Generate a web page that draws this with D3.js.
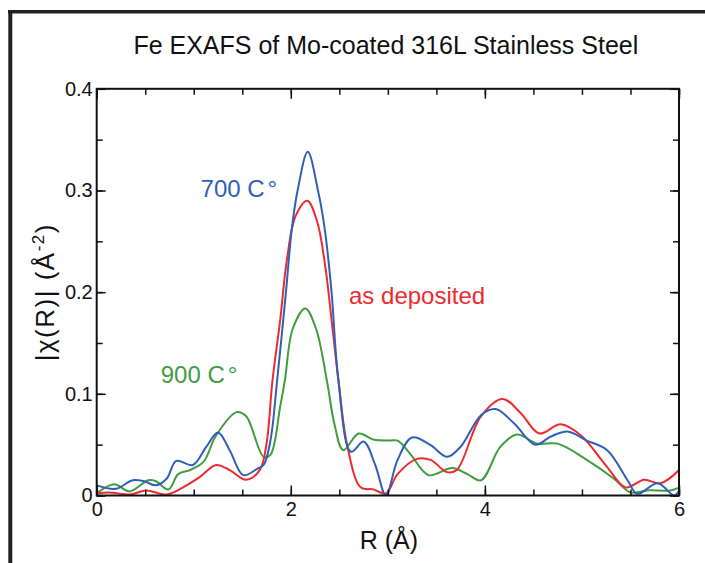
<!DOCTYPE html>
<html>
<head>
<meta charset="utf-8">
<script src="https://cdn.jsdelivr.net/npm/d3@7"></script>
<style>
  html, body { margin: 0; padding: 0; background: #fff; }
  svg { display: block; font-family: "Liberation Sans", Arial, Helvetica, sans-serif; }
</style>
</head>
<body>
<svg id="chart" width="705" height="563"></svg>
<script>
// ---- Data ----
const title = "Fe EXAFS of Mo-coated 316L Stainless Steel";
const xTickLabels = [0, 2, 4, 6];
const yTickLabels = [0, 0.1, 0.2, 0.3, 0.4];

// 700 C (blue)
const r700 = [0, 0.2, 0.37, 0.49, 0.61, 0.72, 0.82, 0.99, 1.13, 1.25, 1.37, 1.51, 1.65, 1.72, 1.79, 1.86, 1.95, 2.01, 2.07, 2.175, 2.28, 2.35, 2.42, 2.49, 2.62, 2.75, 2.87, 2.98, 3.1, 3.25, 3.44, 3.61, 3.75, 3.96, 4.11, 4.30, 4.52, 4.68, 4.85, 5.05, 5.26, 5.47, 5.57, 5.78, 5.95, 6.0];
const v700 = [0.010, 0.0066, 0.015, 0.014, 0.010, 0.0165, 0.034, 0.030, 0.048, 0.062, 0.0446, 0.020, 0.026, 0.030, 0.054, 0.114, 0.20, 0.262, 0.30, 0.338, 0.30, 0.262, 0.20, 0.114, 0.043, 0.053, 0.030, 0.0, 0.035, 0.057, 0.0495, 0.038, 0.048, 0.079, 0.085, 0.071, 0.050, 0.058, 0.063, 0.054, 0.0446, 0.015, 0.0017, 0.012, 0.0, 0.005];

// as deposited (red)
const rDep = [0, 0.13, 0.34, 0.51, 0.72, 0.89, 1.06, 1.23, 1.37, 1.54, 1.68, 1.75, 1.81, 1.89, 1.96, 2.05, 2.17, 2.27, 2.35, 2.43, 2.49, 2.58, 2.72, 2.85, 2.98, 3.1, 3.30, 3.44, 3.61, 3.71, 3.96, 4.18, 4.37, 4.56, 4.78, 4.99, 5.26, 5.45, 5.64, 5.81, 6.0];
const vDep = [0.002, 0.003, 0.001, 0.005, 0.001, 0.008, 0.018, 0.030, 0.025, 0.0155, 0.025, 0.051, 0.112, 0.172, 0.232, 0.275, 0.290, 0.27, 0.229, 0.164, 0.114, 0.05, 0.008, 0.006, 0.002, 0.021, 0.036, 0.035, 0.023, 0.025, 0.078, 0.095, 0.081, 0.061, 0.070, 0.059, 0.028, 0.008, 0.0155, 0.012, 0.025];

// 900 C (green)
const r900 = [0, 0.18, 0.34, 0.53, 0.61, 0.74, 0.84, 0.96, 1.10, 1.23, 1.44, 1.54, 1.72, 1.79, 1.89, 1.94, 2.02, 2.15, 2.26, 2.37, 2.45, 2.54, 2.7, 2.85, 3.02, 3.1, 3.23, 3.42, 3.66, 3.82, 3.96, 4.16, 4.33, 4.54, 4.75, 5.05, 5.33, 5.50, 5.67, 5.91, 6.0];
const v900 = [0.002, 0.011, 0.004, 0.015, 0.014, 0.006, 0.021, 0.025, 0.033, 0.059, 0.082, 0.078, 0.038, 0.040, 0.087, 0.114, 0.164, 0.184, 0.164, 0.114, 0.07, 0.0446, 0.061, 0.055, 0.054, 0.054, 0.041, 0.020, 0.027, 0.021, 0.015, 0.048, 0.060, 0.051, 0.051, 0.035, 0.0165, 0.003, 0.005, 0.005, 0.0076];

const seriesNames = ["700 C", "as deposited", "900 C"];
const seriesColors = ["#2f5fb7", "#ee2a2e", "#3f9c3f"];

// ---- Layout ----
const svg = d3.select("#chart");
const pLeft = 96.7, pRight = 679, pTop = 88.8, pBottom = 495.5;

const x = d3.scaleLinear().domain([0, 6]).range([pLeft, pRight]);
const y = d3.scaleLinear().domain([0, 0.4]).range([pBottom, pTop]);

// outer frame (partial border of the original figure)
svg.append("line").attr("x1", 8).attr("x2", 705).attr("y1", 11.8).attr("y2", 11.8)
  .attr("stroke", "#222").attr("stroke-width", 3.6);
svg.append("line").attr("x1", 10.3).attr("x2", 10.3).attr("y1", 10).attr("y2", 563)
  .attr("stroke", "#222").attr("stroke-width", 4);

// title
svg.append("text").attr("x", (pLeft + pRight) / 2 - 2).attr("y", 54)
  .attr("text-anchor", "middle").attr("font-size", 25).attr("fill", "#111")
  .text(title);

// curves
svg.append("clipPath").attr("id", "clip").append("rect")
  .attr("x", pLeft).attr("y", pTop).attr("width", pRight - pLeft).attr("height", pBottom - pTop);

const line = d3.line().x(d => x(d[0])).y(d => y(d[1])).curve(d3.curveCatmullRom.alpha(0.5));
const seriesData = [
  d3.zip(r700, v700),
  d3.zip(rDep, vDep),
  d3.zip(r900, v900)
];
const gCurves = svg.append("g").attr("clip-path", "url(#clip)");
[2, 1, 0].forEach(i => {
  gCurves.append("path").datum(seriesData[i])
    .attr("fill", "none").attr("stroke", seriesColors[i]).attr("stroke-width", 2)
    .attr("stroke-linejoin", "round").attr("d", line);
});

// axes with inward ticks on all four sides
const majorX = xTickLabels, minorX = d3.range(0, 6.01, 0.5);
const majorY = yTickLabels, minorY = d3.range(0, 0.401, 0.05);

svg.append("g").attr("transform", `translate(0,${pBottom})`)
  .call(d3.axisBottom(x).tickValues(minorX).tickSize(-6).tickFormat(""));
svg.append("g").attr("transform", `translate(0,${pBottom})`)
  .call(d3.axisBottom(x).tickValues(majorX).tickSize(-10).tickPadding(6).tickFormat(d3.format("d")));
svg.append("g").attr("transform", `translate(0,${pTop})`)
  .call(d3.axisTop(x).tickValues(minorX).tickSize(-6).tickFormat(""));
svg.append("g").attr("transform", `translate(0,${pTop})`)
  .call(d3.axisTop(x).tickValues(majorX).tickSize(-10).tickFormat(""));
svg.append("g").attr("transform", `translate(${pLeft},0)`)
  .call(d3.axisLeft(y).tickValues(minorY).tickSize(-6).tickFormat(""));
svg.append("g").attr("transform", `translate(${pLeft},0)`)
  .call(d3.axisLeft(y).tickValues(majorY).tickSize(-9).tickPadding(4)
    .tickFormat(d => d === 0 ? "0" : d3.format(".1f")(d)));
svg.append("g").attr("transform", `translate(${pRight},0)`)
  .call(d3.axisRight(y).tickValues(minorY).tickSize(-6).tickFormat(""));
svg.append("g").attr("transform", `translate(${pRight},0)`)
  .call(d3.axisRight(y).tickValues(majorY).tickSize(-9).tickFormat(""));

svg.selectAll(".domain").remove();
svg.selectAll(".tick line").attr("stroke", "#111").attr("stroke-width", 1.5);
svg.selectAll(".tick text").attr("font-size", 20).attr("fill", "#111")
  .attr("font-family", "'Liberation Sans', Arial, sans-serif");

// plot frame
svg.append("rect").attr("x", pLeft).attr("y", pTop)
  .attr("width", pRight - pLeft).attr("height", pBottom - pTop)
  .attr("fill", "none").attr("stroke", "#111").attr("stroke-width", 2);

// axis labels
svg.append("text").attr("x", (pLeft + pRight) / 2 + 1).attr("y", 549)
  .attr("text-anchor", "middle").attr("font-size", 25).attr("fill", "#111")
  .text("R (Å)");

const yl = svg.append("text")
  .attr("transform", `translate(54,${(pTop + pBottom) / 2}) rotate(-90)`)
  .attr("text-anchor", "middle").attr("font-size", 26).attr("letter-spacing", 1.5)
  .attr("fill", "#111");
yl.append("tspan").text("|χ(R)| (Å");
yl.append("tspan").attr("font-size", 17).attr("dy", -10).text("-2");
yl.append("tspan").attr("dy", 10).text(")");

// series annotations
const notes = [
  { i: 0, rx: 1.07, ry: 0.294, text: "700 C" },
  { i: 1, rx: 2.6, ry: 0.188, text: "as deposited", nodeg: true },
  { i: 2, rx: 0.66, ry: 0.111, text: "900 C" }
];
notes.forEach(n => {
  const t = svg.append("text").attr("x", x(n.rx)).attr("y", y(n.ry))
    .attr("font-size", 24).attr("fill", seriesColors[n.i]);
  t.append("tspan").text(n.text);
  if (!n.nodeg) t.append("tspan").attr("dx", 3).text("°");
});
</script>
</body>
</html>
